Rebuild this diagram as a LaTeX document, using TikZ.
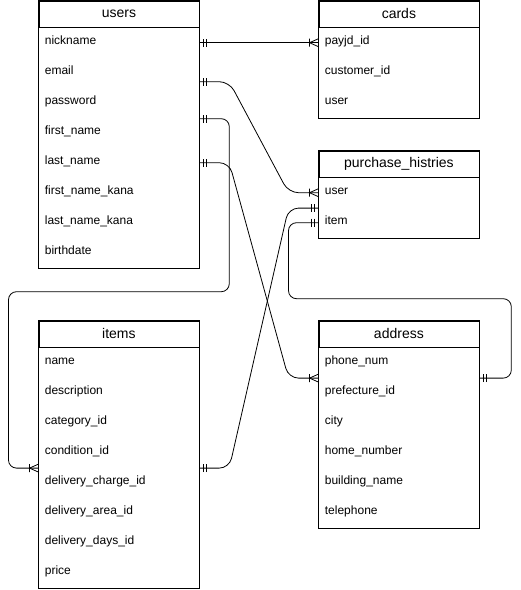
\documentclass[tikz,border=0pt]{standalone}
\usepackage{fontspec}
\setmainfont{Liberation Sans}
\usetikzlibrary{calc}

\tikzset{
  head/.style={draw, anchor=north west, minimum width=160pt, minimum height=26pt,
    inner sep=0pt, font=\fontsize{14pt}{16pt}\selectfont},
  field/.style={anchor=north west, minimum height=30pt, text width=148pt,
    inner xsep=6pt, inner ysep=0pt, align=left, text height=8pt, text depth=4pt,
    font=\fontsize{12pt}{14pt}\selectfont},
  mone/.pic={\draw (4pt,-4pt) -- (4pt,4pt) (7.5pt,-4pt) -- (7.5pt,4pt);},
  crow/.pic={\draw (9pt,-4pt) -- (9pt,4pt) (0pt,-4pt) -- (9pt,0pt) -- (0pt,4pt);},
}

\begin{document}
\begin{tikzpicture}[x=1pt, y=-1pt, line width=0.8pt]

\useasboundingbox (0,0) rectangle (521,590);

% tables
\node[head] (users) at (38.5,0.5) {users};
\foreach \f [count=\i] in {nickname, email, password, first\_name, last\_name,
    first\_name\_kana, last\_name\_kana, birthdate}
  \node[field] (users-\i) at ($(users.south west)+(0,{30*(\i-1)})$) {\f};
\draw (users.north west) rectangle (users-8.south east);

\node[head] (cards) at (318.5,0.5) {cards};
\foreach \f [count=\i] in {payjd\_id, customer\_id, user}
  \node[field] (cards-\i) at ($(cards.south west)+(0,{30*(\i-1)})$) {\f};
\draw (cards.north west) rectangle (cards-3.south east);

\node[head] (histries) at (318.5,150.5) {purchase\_histries};
\foreach \f [count=\i] in {user, item}
  \node[field] (histries-\i) at ($(histries.south west)+(0,{30*(\i-1)})$) {\f};
\draw (histries.north west) rectangle (histries-2.south east);

\node[head] (items) at (38.5,320.5) {items};
\foreach \f [count=\i] in {name, description, category\_id, condition\_id,
    delivery\_charge\_id, delivery\_area\_id, delivery\_days\_id, price}
  \node[field] (items-\i) at ($(items.south west)+(0,{30*(\i-1)})$) {\f};
\draw (items.north west) rectangle (items-8.south east);

\node[head] (address) at (318.5,320.5) {address};
\foreach \f [count=\i] in {phone\_num, prefecture\_id, city, home\_number,
    building\_name, telephone}
  \node[field] (address-\i) at ($(address.south west)+(0,{30*(\i-1)})$) {\f};
\draw (address.north west) rectangle (address-6.south east);

% relations
\coordinate (email) at ([yshift=-9pt]users-2.east);
\coordinate (pass) at ([yshift=-16pt]users-3.east);

\draw (users-1.east) -- (cards-1.west);
\draw [rounded corners=10pt] (email) -- ++(30,0) -- ([xshift=-30pt]histries-1.west) -- (histries-1.west);
\draw [rounded corners=8pt] (pass) -- ++(30,0) -- ++(0,173) -| ([xshift=-30pt]items-4.south west) -- (items-4.south west);
\draw [rounded corners=10pt] (users-5.east) -- ++(30,0) -- ([xshift=-30pt]address-1.south west) -- (address-1.south west);
\draw [rounded corners=10pt] (histries-1.south west) -- ++(-30,0) -- ([xshift=30pt]items-4.south east) -- (items-4.south east);
\draw [rounded corners=8pt] (histries-2.west) -- ++(-30,0) -- ++(0,76) -| ([xshift=32pt]address-1.south east) -- (address-1.south east);

% end marks
\pic at (users-1.east) {mone};
\pic [rotate=180] at (cards-1.west) {crow};
\pic at (email) {mone};
\pic [rotate=180] at (histries-1.west) {crow};
\pic at (pass) {mone};
\pic [rotate=180] at (items-4.south west) {crow};
\pic at (users-5.east) {mone};
\pic [rotate=180] at (address-1.south west) {crow};
\pic [rotate=180] at (histries-1.south west) {mone};
\pic at (items-4.south east) {mone};
\pic [rotate=180] at (histries-2.west) {mone};
\pic at (address-1.south east) {mone};

\end{tikzpicture}
\end{document}
